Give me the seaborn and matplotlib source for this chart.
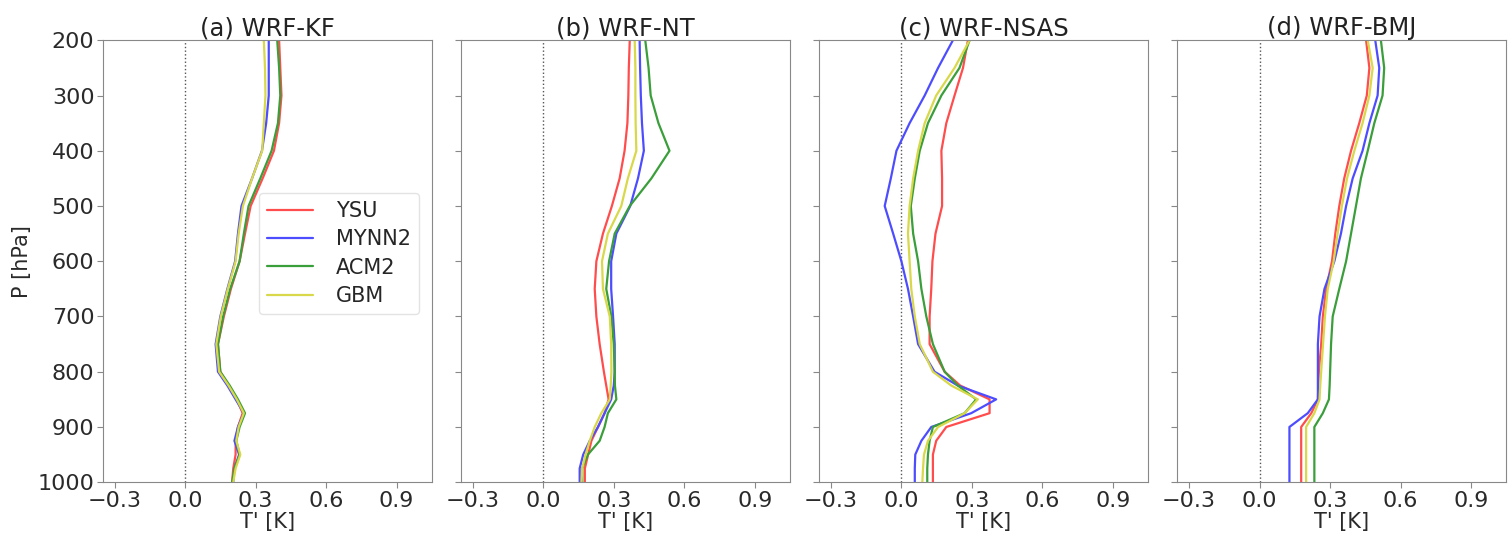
# 温度扰动垂直廓线 (四种积云方案 x 四种边界层方案)

import matplotlib
matplotlib.use('Agg')
import matplotlib.pyplot as plt
import pandas as pd
import seaborn as sns

# 气压层 (hPa)
levels = [1000, 975, 950, 925, 900, 875, 850, 825, 800, 750, 700,
          650, 600, 550, 500, 450, 400, 350, 300, 250, 200]

schemes = ['YSU', 'MYNN2', 'ACM2', 'GBM']
panel_titles = ['(a) WRF-KF', '(b) WRF-NT', '(c) WRF-NSAS', '(d) WRF-BMJ']

# (a) WRF-KF
kf_ysu = [0.20, 0.205, 0.215, 0.215, 0.225, 0.245, 0.22, 0.185, 0.15, 0.14, 0.165,
          0.195, 0.232, 0.255, 0.279, 0.33, 0.378, 0.40, 0.41, 0.405, 0.40]
kf_mynn2 = [0.205, 0.21, 0.23, 0.21, 0.225, 0.25, 0.215, 0.18, 0.14, 0.13, 0.15,
            0.18, 0.213, 0.225, 0.24, 0.285, 0.327, 0.345, 0.356, 0.356, 0.356]
kf_acm2 = [0.20, 0.21, 0.232, 0.218, 0.232, 0.255, 0.225, 0.19, 0.15, 0.14, 0.162,
           0.192, 0.232, 0.25, 0.27, 0.32, 0.368, 0.395, 0.405, 0.40, 0.392]
kf_gbm = [0.205, 0.215, 0.235, 0.218, 0.228, 0.25, 0.22, 0.185, 0.145, 0.133, 0.152,
          0.182, 0.215, 0.228, 0.246, 0.285, 0.328, 0.335, 0.342, 0.34, 0.335]

# (b) WRF-NT
nt_ysu = [0.177, 0.177, 0.191, 0.205, 0.233, 0.261, 0.278, 0.268, 0.258, 0.24, 0.226,
          0.219, 0.226, 0.254, 0.292, 0.325, 0.346, 0.358, 0.362, 0.364, 0.368]
nt_mynn2 = [0.155, 0.155, 0.17, 0.198, 0.233, 0.261, 0.289, 0.30, 0.304, 0.304, 0.297,
            0.289, 0.289, 0.311, 0.37, 0.403, 0.428, 0.42, 0.415, 0.412, 0.41]
nt_acm2 = [0.166, 0.166, 0.19, 0.24, 0.261, 0.275, 0.311, 0.305, 0.304, 0.30, 0.29,
           0.268, 0.28, 0.304, 0.368, 0.46, 0.537, 0.49, 0.457, 0.448, 0.434]
nt_gbm = [0.163, 0.166, 0.18, 0.198, 0.219, 0.247, 0.283, 0.287, 0.29, 0.289, 0.283,
          0.254, 0.25, 0.275, 0.332, 0.36, 0.396, 0.393, 0.392, 0.392, 0.389]

# (c) WRF-NSAS
nsas_ysu = [0.134, 0.134, 0.134, 0.148, 0.191, 0.375, 0.375, 0.25, 0.184, 0.12, 0.12,
            0.127, 0.132, 0.145, 0.173, 0.173, 0.17, 0.191, 0.226, 0.262, 0.283]
nsas_mynn2 = [0.057, 0.057, 0.059, 0.085, 0.127, 0.297, 0.403, 0.24, 0.141, 0.071, 0.05,
              0.028, 0.0, -0.035, -0.071, -0.045, -0.021, 0.035, 0.099, 0.156, 0.219]
nsas_acm2 = [0.11, 0.11, 0.113, 0.12, 0.134, 0.269, 0.318, 0.24, 0.184, 0.134, 0.106,
             0.085, 0.071, 0.05, 0.04, 0.057, 0.078, 0.113, 0.17, 0.247, 0.29]
nsas_gbm = [0.089, 0.092, 0.096, 0.113, 0.156, 0.269, 0.325, 0.212, 0.134, 0.078, 0.057,
            0.042, 0.035, 0.028, 0.035, 0.05, 0.071, 0.099, 0.148, 0.226, 0.29]

# (d) WRF-BMJ
bmj_ysu = [0.177, 0.177, 0.177, 0.177, 0.177, 0.22, 0.248, 0.25, 0.252, 0.262, 0.269,
           0.283, 0.308, 0.322, 0.339, 0.36, 0.389, 0.424, 0.456, 0.467, 0.453]
bmj_mynn2 = [0.127, 0.127, 0.127, 0.127, 0.127, 0.205, 0.248, 0.248, 0.248, 0.248, 0.255,
             0.276, 0.318, 0.346, 0.368, 0.396, 0.438, 0.467, 0.502, 0.509, 0.492]
bmj_acm2 = [0.233, 0.233, 0.233, 0.233, 0.233, 0.269, 0.295, 0.298, 0.30, 0.304, 0.311,
            0.339, 0.368, 0.389, 0.41, 0.431, 0.46, 0.488, 0.523, 0.53, 0.516]
bmj_gbm = [0.198, 0.198, 0.198, 0.198, 0.198, 0.233, 0.255, 0.258, 0.262, 0.27, 0.278,
           0.29, 0.315, 0.332, 0.35, 0.372, 0.403, 0.438, 0.467, 0.481, 0.46]

panels = [
    [kf_ysu, kf_mynn2, kf_acm2, kf_gbm],
    [nt_ysu, nt_mynn2, nt_acm2, nt_gbm],
    [nsas_ysu, nsas_mynn2, nsas_acm2, nsas_gbm],
    [bmj_ysu, bmj_mynn2, bmj_acm2, bmj_gbm],
]

colors = {'YSU': '#ff4d4d', 'MYNN2': '#4d4dff', 'ACM2': '#3a9e3a', 'GBM': '#d8d84a'}

sns.set_style('ticks')
plt.rcParams['font.family'] = ['DejaVu Sans']
plt.rcParams['axes.edgecolor'] = '#888888'
plt.rcParams['xtick.color'] = '#888888'
plt.rcParams['ytick.color'] = '#888888'
plt.rcParams['xtick.labelcolor'] = '#2a2a2a'
plt.rcParams['ytick.labelcolor'] = '#2a2a2a'

fig, axes = plt.subplots(1, 4, figsize=(15.11, 5.37), dpi=100, sharey=True)
plt.subplots_adjust(left=0.068, right=0.997, bottom=0.102, top=0.925, wspace=0.088)

for i, ax in enumerate(axes):
    rows = []
    for name, vals in zip(schemes, panels[i]):
        for p, t in zip(levels, vals):
            rows.append({'P': p, 'T': t, 'scheme': name})
    df = pd.DataFrame(rows)

    ax.axvline(0, color='#555555', linestyle=':', linewidth=1)
    sns.lineplot(data=df, x='T', y='P', hue='scheme', palette=colors, orient='y',
                 estimator=None, sort=False, linewidth=1.6, ax=ax, legend=(i == 0))

    ax.set_xlim(-0.35, 1.05)
    ax.set_ylim(1000, 200)
    ax.set_xticks([-0.3, 0.0, 0.3, 0.6, 0.9])
    ax.set_yticks(range(200, 1001, 100))
    ax.tick_params(labelsize=16, length=4, pad=2)
    ax.set_title(panel_titles[i], fontsize=17.5, color='#222222', pad=3)
    ax.set_xlabel("T' [K]", fontsize=15, color='#2a2a2a', labelpad=1)
    ax.set_ylabel('P [hPa]' if i == 0 else '', fontsize=15, color='#2a2a2a')
    for s in ax.spines.values():
        s.set_visible(True)

leg = axes[0].legend(loc='upper left', bbox_to_anchor=(0.474, 0.655), fontsize=15,
                     title=None, frameon=True, handlelength=2.2, handletextpad=1.1,
                     borderaxespad=0, labelspacing=0.4)
leg.get_frame().set_edgecolor('#dddddd')

fig.savefig('out.png', dpi=100)
